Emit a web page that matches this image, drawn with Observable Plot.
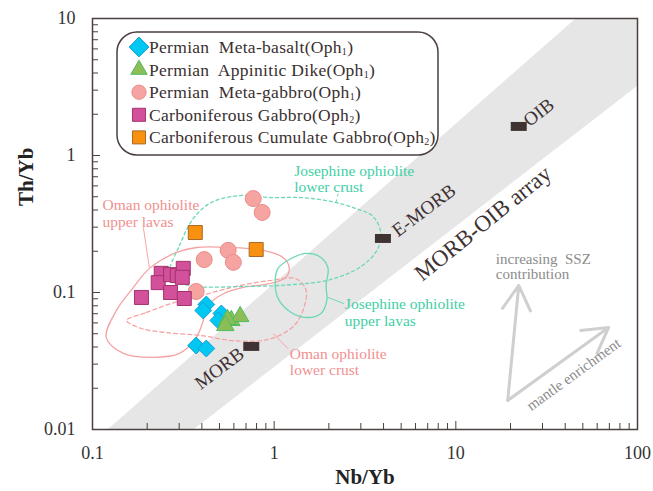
<!DOCTYPE html>
<html>
<head>
<meta charset="utf-8">
<script src="https://cdn.jsdelivr.net/npm/d3@7"></script>
<script src="https://cdn.jsdelivr.net/npm/@observablehq/plot@0.6"></script>
<style>
  body { margin: 0; background: #fff; }
  svg { font-family: "Liberation Serif", "DejaVu Serif", serif; }
  .legend text { white-space: pre; }
</style>
</head>
<body>
<div id="chart"></div>
<script>
// Axis ticks
const xMajor = [0.1, 1, 10, 100];
const yMajor = [0.01, 0.1, 1, 10];
const mult = [2, 3, 4, 5, 6, 7, 8, 9];
const xMinor = [0.1, 1, 10].flatMap(d => mult.map(m => +(m * d).toPrecision(3)));
const yMinor = [0.01, 0.1, 1].flatMap(d => mult.map(m => +(m * d).toPrecision(3)));

// Samples (Nb/Yb, Th/Yb)
const metaBasaltNb = [0.423, 0.407, 0.512, 0.493, 0.372, 0.423];
const metaBasaltTh = [0.0817, 0.0739, 0.0703, 0.0625, 0.041, 0.039];
const dikeNb = [0.581, 0.650, 0.553, 0.538];
const dikeTh = [0.0625, 0.0668, 0.0636, 0.0574];
const metaGabbroNb = [0.767, 0.859, 0.558, 0.596, 0.412, 0.372];
const metaGabbroTh = [0.485, 0.384, 0.203, 0.166, 0.174, 0.1017];
const gabbroNb = [0.239, 0.230, 0.269, 0.293, 0.316, 0.312, 0.269, 0.186, 0.320];
const gabbroTh = [0.138, 0.118, 0.135, 0.133, 0.150, 0.129, 0.100, 0.092, 0.0904];
const cumulateNb = [0.368, 0.796];
const cumulateTh = [0.274, 0.206];

// Reference compositions
const refNames = ["N-MORB", "E-MORB", "OIB"];
const refNb = [0.748, 3.97, 22.2];
const refTh = [0.0404, 0.248, 1.63];

// MORB-OIB array outline
const bandNb = [0.121, 45.6, 100, 100, 0.359];
const bandTh = [0.01, 10, 10, 3.24, 0.01];

// Ophiolite fields
const omanUpperNb = [0.119, 0.1355, 0.168, 0.206, 0.290, 0.373, 0.566, 0.870, 1.12, 1.21, 1.16, 0.94, 0.676, 0.525, 0.423, 0.407, 0.373, 0.301, 0.216, 0.148];
const omanUpperTh = [0.047, 0.074, 0.109, 0.150, 0.196, 0.213, 0.213, 0.203, 0.180, 0.152, 0.129, 0.116, 0.109, 0.098, 0.078, 0.0625, 0.047, 0.0359, 0.0336, 0.0359];
const omanLowerNb = [0.154, 0.198, 0.272, 0.397, 0.618, 0.939, 1.32, 1.50, 1.44, 1.29, 1.065, 0.849, 0.581, 0.397, 0.255, 0.186];
const omanLowerTh = [0.0625, 0.0715, 0.0832, 0.095, 0.111, 0.122, 0.126, 0.1035, 0.074, 0.0574, 0.0485, 0.0446, 0.0446, 0.0485, 0.051, 0.0546];
const josLowerNb = [0.265, 0.301, 0.359, 0.451, 0.659, 0.963, 1.41, 2.06, 2.82, 3.50, 3.87, 3.68, 3.01, 2.06, 1.24, 0.659, 0.373, 0.290];
const josLowerTh = [0.138, 0.220, 0.347, 0.454, 0.511, 0.493, 0.493, 0.462, 0.410, 0.359, 0.270, 0.203, 0.155, 0.1245, 0.114, 0.1106, 0.1106, 0.120];
const josUpperNb = [1.05, 1.24, 1.50, 1.81, 1.98, 1.93, 1.95, 1.81, 1.50, 1.24, 1.065, 1.013];
const josUpperTh = [0.150, 0.177, 0.193, 0.180, 0.150, 0.1125, 0.0875, 0.0703, 0.0657, 0.0715, 0.0875, 0.1125];

// Legend entries
const legendLabels = ["Permian  Meta-basalt(Oph", "Permian  Appinitic Dike(Oph", "Permian  Meta-gabbro(Oph", "Carboniferous Gabbro(Oph", "Carboniferous Cumulate Gabbro(Oph"];
const legendSubs = ["1", "1", "1", "2", "2"];

const rows = (xs, ys) => xs.map((x, i) => ({x, y: ys[i]}));

const serif = "Liberation Serif";
const pink = "#f5a3a3";
const pinkText = "#f29090";
const teal = "#6ad8b8";
const tealText = "#3fcfa6";
const dark = "#3e3232";
const arrowGrey = "#cfcfcf";

const styles = [
  {symbol: "diamond2", fill: "#00c8f2", stroke: "#1a9fd0", r: 7.6},
  {symbol: "triangle", fill: "#8dbd56", stroke: "#4cbd60", r: 6.5},
  {symbol: "circle", fill: "#f5a4a1", stroke: "#e98c8a", r: 8},
  {symbol: "square", fill: "#d3509a", stroke: "#a3336e", r: 7.9},
  {symbol: "square", fill: "#f7910f", stroke: "#a86a2a", r: 7.9}
];

// Flat bar used for the reference compositions
const barSymbol = {
  draw(context, size) {
    const s = Math.sqrt(size / Math.PI);
    context.rect(-s, -s * 0.56, 2 * s, 1.12 * s);
  }
};

const dots = (xs, ys, st) => Plot.dot(rows(xs, ys), {x: "x", y: "y", symbol: st.symbol, r: st.r, fill: st.fill, stroke: st.stroke, strokeWidth: 1});

const field = (xs, ys, stroke, dash) => Plot.line(rows(xs, ys), {x: "x", y: "y", curve: "catmull-rom-closed", stroke, strokeWidth: 1.3, strokeDasharray: dash});

const note = (x, y, text, o) => Plot.text([{x, y, text}], {x: "x", y: "y", text: "text", fontFamily: serif, ...o});

const chart = Plot.plot({
  width: 653,
  height: 491,
  marginLeft: 92,
  marginRight: 16,
  marginTop: 18,
  marginBottom: 62,
  x: {type: "log", domain: [0.1, 100]},
  y: {type: "log", domain: [0.01, 10]},
  style: {background: "white", color: "#333", fontFamily: "Liberation Serif, serif"},
  marks: [
    Plot.line(rows(bandNb, bandTh), {x: "x", y: "y", curve: "linear-closed", fill: "#e6e6e6", stroke: "none", clip: true}),

    field(omanUpperNb, omanUpperTh, pink, null),
    field(omanLowerNb, omanLowerTh, pink, "4,3"),
    field(josLowerNb, josLowerTh, teal, "3,3"),
    field(josUpperNb, josUpperTh, teal, null),

    // leader lines for the field labels
    Plot.link([{x1: 0.1906, y1: 0.298, x2: 0.2056, y2: 0.152}], {x1: "x1", y1: "y1", x2: "x2", y2: "y2", stroke: pink, strokeWidth: 1}),
    Plot.link([{x1: 2.25, y1: 0.528, x2: 2.19, y2: 0.454}], {x1: "x1", y1: "y1", x2: "x2", y2: "y2", stroke: teal, strokeWidth: 1, strokeDasharray: "3,3"}),
    Plot.link([{x1: 1.98, y1: 0.092, x2: 2.42, y2: 0.083}], {x1: "x1", y1: "y1", x2: "x2", y2: "y2", stroke: teal, strokeWidth: 1}),
    Plot.link([{x1: 0.987, y1: 0.0502, x2: 1.19, y2: 0.039}], {x1: "x1", y1: "y1", x2: "x2", y2: "y2", stroke: pink, strokeWidth: 1}),

    // field labels
    note(0.1, 0.303, "Oman ophiolite\nupper lavas", {textAnchor: "start", lineAnchor: "bottom", fill: pinkText, fontSize: 15.5, dx: 10, lineHeight: 1.05}),
    note(1.22, 0.0248, "Oman ophiolite\nlower crust", {textAnchor: "start", lineAnchor: "bottom", fill: pinkText, fontSize: 15.5, lineHeight: 1.05}),
    note(1.288, 0.537, "Josephine ophiolite\nlower crust", {textAnchor: "start", lineAnchor: "bottom", fill: tealText, fontSize: 15.5, lineHeight: 1.05}),
    note(2.45, 0.0574, "Josephine ophiolite\nupper lavas", {textAnchor: "start", lineAnchor: "bottom", fill: tealText, fontSize: 15.5, lineHeight: 1.05}),

    // array labels
    note(0.499, 0.0279, "MORB", {rotate: -37, fontSize: 19, fill: dark}),
    note(6.67, 0.397, "E-MORB", {rotate: -37, fontSize: 19, fill: dark}),
    note(28.6, 2.06, "OIB", {rotate: -38, fontSize: 19, fill: dark}),
    note(14.1, 0.319, "MORB-OIB array", {rotate: -39, fontSize: 23, fill: dark}),

    // trend arrows
    Plot.arrow([{x1: 19.3, y1: 0.0163, x2: 22.2, y2: 0.1125}, {x1: 19.3, y1: 0.0163, x2: 69.3, y2: 0.0555}],
      {x1: "x1", y1: "y1", x2: "x2", y2: "y2", stroke: arrowGrey, strokeWidth: 3, headLength: 14, headAngle: 60}),
    note(16.6, 0.1265, "increasing  SSZ\ncontribution", {textAnchor: "start", lineAnchor: "bottom", fill: "#8c8c8c", fontSize: 15, lineHeight: 1.0}),
    note(44.5, 0.0252, "mantle enrichment", {rotate: -36, fill: "#8c8c8c", fontSize: 15}),

    // reference compositions
    Plot.dot(rows(refNb, refTh), {x: "x", y: "y", symbol: barSymbol, r: 8, fill: dark}),

    // samples
    dots(metaGabbroNb, metaGabbroTh, styles[2]),
    dots(gabbroNb, gabbroTh, styles[3]),
    dots(cumulateNb, cumulateTh, styles[4]),
    dots(metaBasaltNb, metaBasaltTh, styles[0]),
    dots(dikeNb, dikeTh, styles[1]),

    Plot.frame({stroke: "#4b3f3f", strokeWidth: 1.5}),

    // inward ticks
    Plot.axisX(xMinor, {anchor: "bottom", tickSize: -6, tickFormat: () => "", label: null, stroke: "#4b3f3f"}),
    Plot.axisX(xMajor, {anchor: "bottom", tickSize: -8, tickFormat: () => "", label: null, stroke: "#4b3f3f"}),
    Plot.axisY(yMinor, {anchor: "left", tickSize: -6, tickFormat: () => "", label: null, stroke: "#4b3f3f"}),
    Plot.axisY(yMajor, {anchor: "left", tickSize: -8, tickFormat: () => "", label: null, stroke: "#4b3f3f"}),
    // tick labels
    Plot.axisX(xMajor, {anchor: "bottom", tickSize: 0, tickPadding: 17, tickFormat: d => String(d), label: null, fontSize: 18, fill: "#333", fontFamily: serif}),
    Plot.axisY(yMajor, {anchor: "left", tickSize: 0, tickPadding: 17, tickFormat: d => String(d), label: null, fontSize: 18, fill: "#333", fontFamily: serif}),
    // axis titles
    Plot.text(["Nb/Yb"], {frameAnchor: "bottom", dy: 54, text: d => d, fontSize: 21, fontWeight: "bold", fill: "#222", fontFamily: serif}),
    Plot.text(["Th/Yb"], {frameAnchor: "left", dx: -66, dy: -18, rotate: -90, text: d => d, fontSize: 21, fontWeight: "bold", fill: "#222", fontFamily: serif})
  ]
});

// Legend box inside the plotting area
const svg = d3.select(chart);
const lg = svg.append("g").attr("class", "legend");
lg.append("rect")
  .attr("x", 117).attr("y", 32).attr("width", 321).attr("height", 123).attr("rx", 20)
  .attr("fill", "white").attr("stroke", "#4b3f3f").attr("stroke-width", 1.5);
const legendSymbols = [
  {type: d3.symbolDiamond2, size: 250},
  {type: d3.symbolTriangle, size: 115},
  {type: d3.symbolCircle, size: 160},
  {type: d3.symbolSquare, size: 170},
  {type: d3.symbolSquare, size: 170}
];
legendLabels.forEach((label, i) => {
  const cy = 47 + i * 22.6;
  lg.append("path")
    .attr("transform", `translate(139,${cy})`)
    .attr("d", d3.symbol(legendSymbols[i].type, legendSymbols[i].size)())
    .attr("fill", styles[i].fill).attr("stroke", styles[i].stroke).attr("stroke-width", 1);
  const t = lg.append("text")
    .attr("x", 149).attr("y", cy + 6)
    .attr("text-anchor", "start")
    .attr("font-family", serif)
    .attr("font-size", 17.5).attr("letter-spacing", 0.3).attr("fill", "#3a2f2f");
  t.append("tspan").text(label);
  t.append("tspan").attr("font-size", 10).attr("dy", 2).text(legendSubs[i]);
  t.append("tspan").attr("dy", -2).text(")");
});

document.getElementById("chart").appendChild(chart);
</script>
</body>
</html>
